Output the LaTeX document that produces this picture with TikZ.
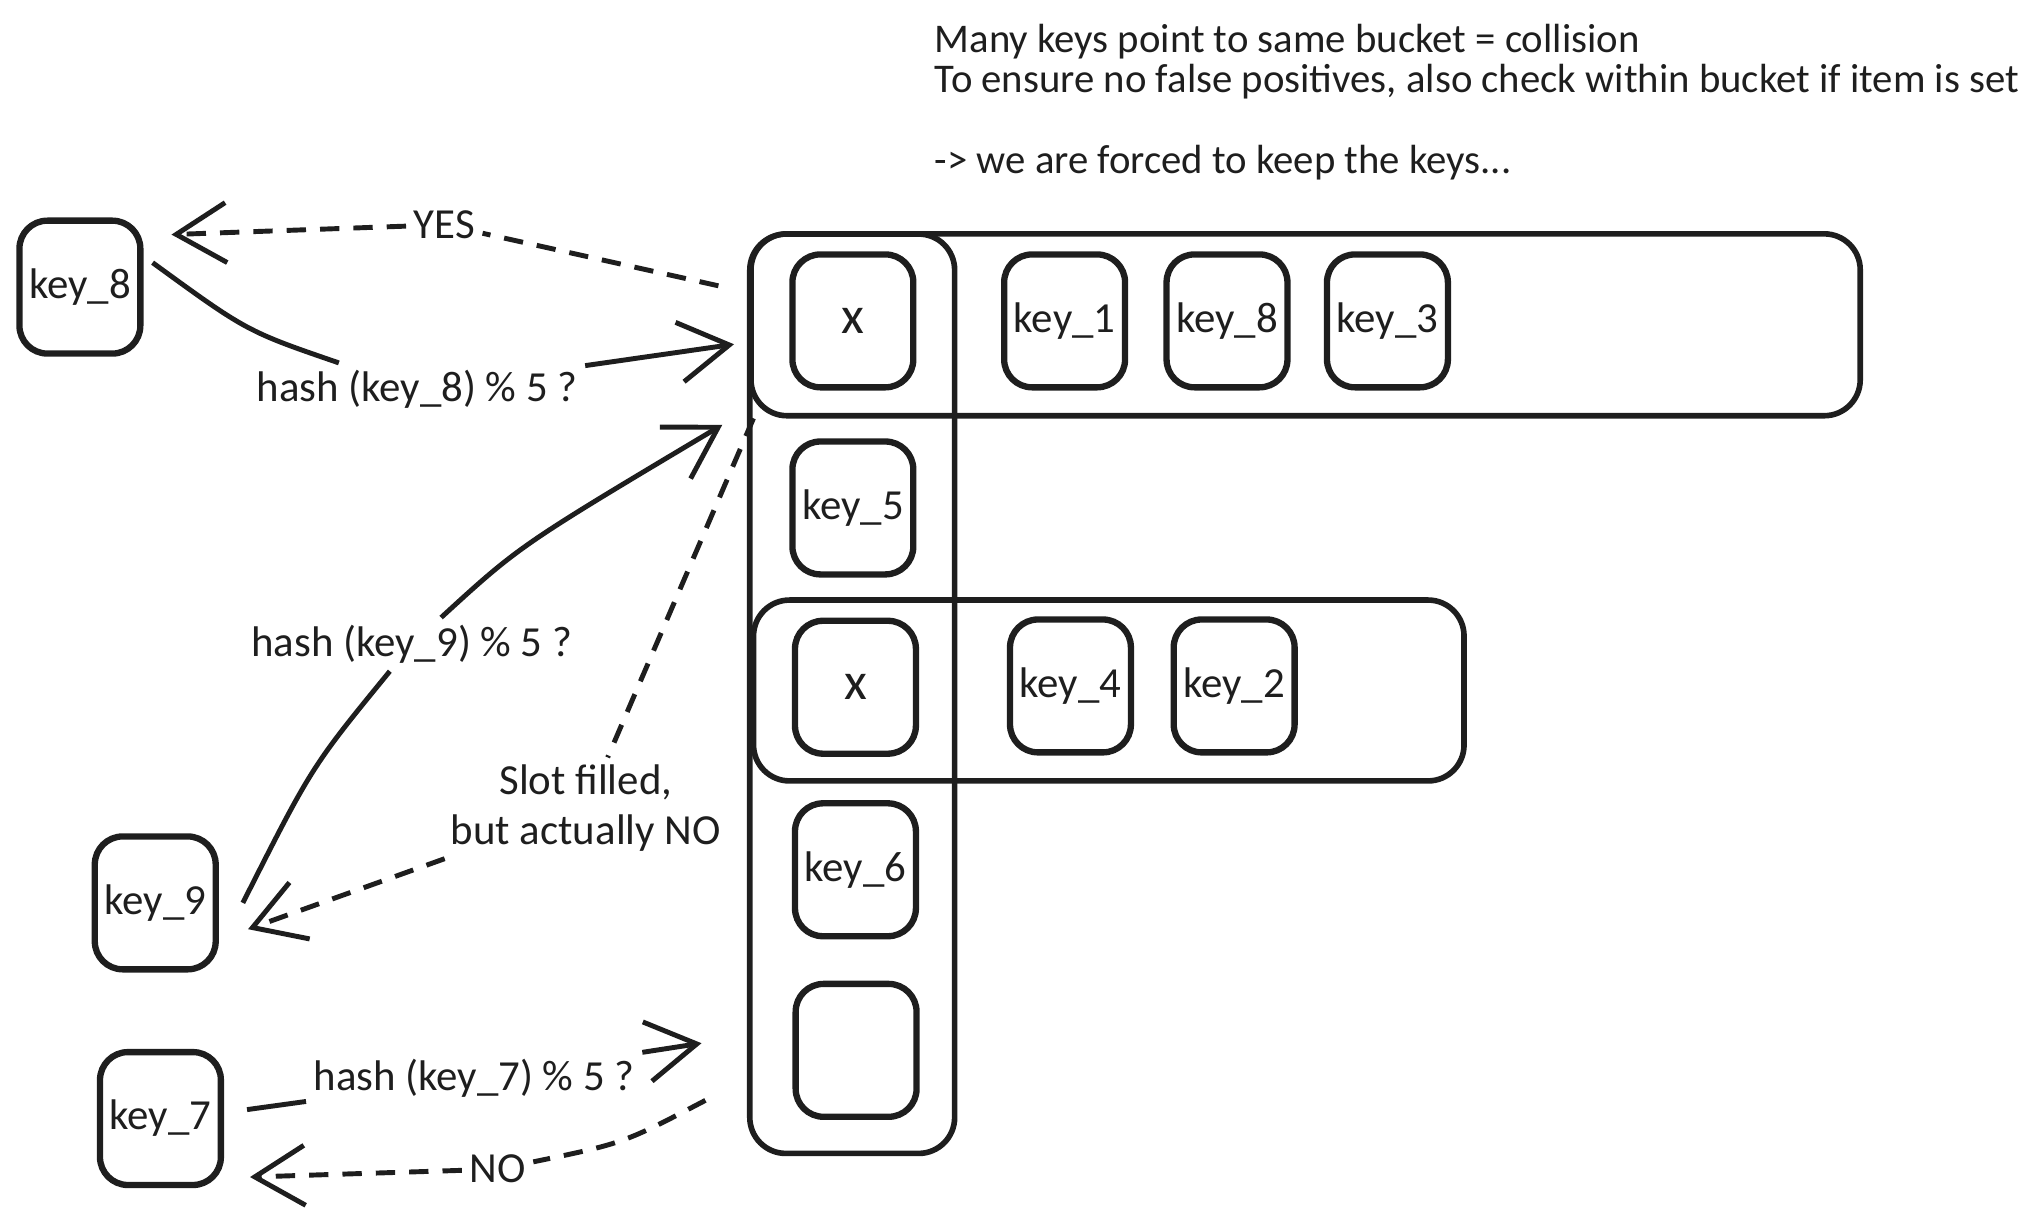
\documentclass[tikz,border=0pt]{standalone}
\usepackage{fontspec}
\setmainfont{Carlito}
\usepackage{tikz}
\usetikzlibrary{arrows.meta,positioning,calc}
\definecolor{inkblack}{RGB}{30,30,30}

\begin{document}
\begin{tikzpicture}[
  x=0.013cm, y=-0.013cm, color=inkblack,
  font=\fontsize{12.2}{14}\selectfont,
  slot/.style={draw=inkblack, rounded corners=0.28cm, line width=1.8pt,
               minimum width=1.21cm, minimum height=1.33cm, inner sep=0pt},
  bucket/.style={draw=inkblack, rounded corners=0.36cm, line width=1.6pt,
                 inner sep=0pt},
  lbl/.style={inner sep=2pt},
  a1/.style={line width=1.4pt, -{Straight Barb[length=5mm,width=6mm]}},
  a2/.style={a1, dash pattern=on 5.5pt off 4pt},
]
\useasboundingbox (0,0) rectangle (1568,932);

% Note
\node[anchor=north west, align=left, font=\fontsize{11.6}{11.45}\selectfont]
  (note) at (710,9) {Many keys point to same bucket = collision\\
  To ensure no false positives, also check within bucket if item is set\\[11.45pt]
  -> we are forced to keep the keys...};

% Buckets
\node[bucket, minimum width=2.05cm, minimum height=9.2cm] (col) at (656,534) {};
\node[bucket, minimum width=11.1cm, minimum height=1.82cm] (row1) at (1005,250) {};
\node[bucket, minimum width=7.11cm, minimum height=1.81cm] (row3) at (853.5,531.5) {};

% Slots
\node[slot, font=\fontsize{15}{16}\selectfont] (s1) at (656.5,247) {x};
\node[slot] (s2) at (656.5,391) {key\_5};
\node[slot, font=\fontsize{15}{16}\selectfont] (s3) at (658.5,529) {x};
\node[slot] (s4) at (658.5,669.5) {key\_6};
\node[slot] (s5) at (659,808.5) {};

% Chained keys
\node[slot] (r1a) at (819.5,247) {key\_1};
\node[slot] (r1b) at (944.5,247) {key\_8};
\node[slot] (r1c) at (1068,247) {key\_3};
\node[slot] (r3a) at (824,528) {key\_4};
\node[slot] (r3b) at (950,528) {key\_2};

% Lookups
\node[slot] (k8) at (61.5,221) {key\_8};
\node[slot] (k9) at (119.5,695) {key\_9};
\node[slot] (k7) at (123.5,861) {key\_7};

% Labels
\node[lbl] (yes) at (342,173) {YES};
\node[lbl] (h8) at (321,300) {hash (key\_8) \% 5 ?};
\node[lbl] (h9) at (317,496) {hash (key\_9) \% 5 ?};
\node[lbl, align=center] (filled) at (451,622) {Slot filled,\\but actually NO};
\node[lbl] (h7) at (365,830) {hash (key\_7) \% 5 ?};
\node[lbl] (no) at (383,900) {NO};

\coordinate (q8) at (565,265);
\coordinate (q9) at (556,327);
\coordinate (q7) at (540,803);
\coordinate (yesS) at (553,220);
\coordinate (fillS) at (580,322);
\coordinate (noS) at (543,847);

% Arrows
\draw[a1] ([shift={(7,-1)}]k8.20) .. controls (190,255) .. (h8) -- (q8);
\draw[a2, shorten >=0.28cm] (yesS) -- (yes) -- (k8.39);
\draw[a1] ([xshift=0.24cm]k9.east) .. controls (240,590) .. (h9)
  .. controls (400,420) .. (q9);
\draw[a2, shorten >=0.31cm] (fillS) -- (filled) -- (k9.-30);
\draw[a1] ([xshift=0.23cm]k7.8) -- (h7) -- (q7);
\draw[a2, shorten >=0.26cm] (noS) .. controls (480,880) .. (no) -- (k7.-43);

\end{tikzpicture}
\end{document}
